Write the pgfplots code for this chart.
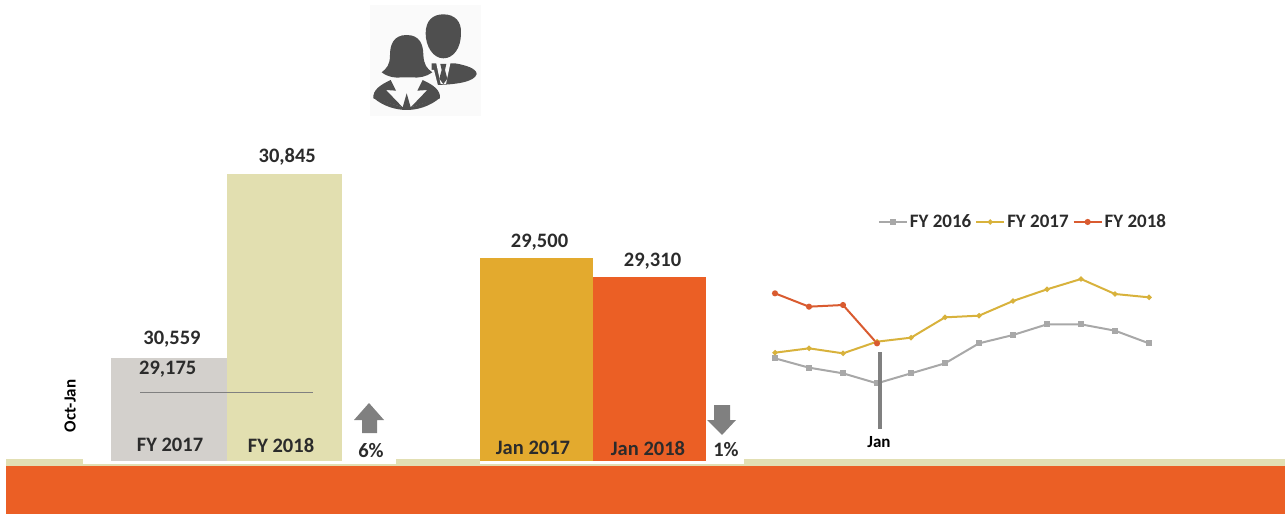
\documentclass[border=0pt]{standalone}
\usepackage{pgfplots}
\pgfplotsset{compat=1.18}
\usepackage{fontspec}
\setmainfont{Carlito}
\definecolor{bandorange}{HTML}{EB5F25}
\definecolor{strip}{HTML}{E2DFB3}
\definecolor{bargrey}{HTML}{D3D0CC}
\definecolor{barbeige}{HTML}{E2DFB0}
\definecolor{bargold}{HTML}{E3AA2E}
\definecolor{linegrey}{HTML}{A8A8A8}
\definecolor{linegold}{HTML}{D8B23C}
\definecolor{linered}{HTML}{D95B30}
\definecolor{ink}{HTML}{2B2B2B}
\definecolor{arrowgrey}{HTML}{808080}
\definecolor{icon}{HTML}{4F4F4F}
\newcommand{\lab}{\fontsize{20.5}{24}\selectfont\bfseries\color{ink}}
\pgfplotsset{
  barpanel/.style={
    hide axis, scale only axis, clip=false, ybar, bar shift=0pt,
    anchor=south west, xmin=-0.5, xmax=1.5,
    nodes near coords={\pgfmathprintnumber[fixed,precision=0,1000 sep={,},assume math mode=true]{\pgfplotspointmeta}},
    nodes near coords style={font=\lab},
  },
}
\begin{document}
\begin{tikzpicture}[x=1pt,y=-1pt]
\path[use as bounding box] (0,0) rectangle (1285,514);

% footer band
\fill[strip] (6,459) rectangle (1285,466);
\fill[white] (83,459) rectangle (396,463.5);
\fill[white] (480,459) rectangle (744,464);
\fill[bandorange] (6,466) rectangle (1285,514);

% people icon
\fill[black!2] (370,5) rectangle (481,116);
\begin{scope}[shift={(360,0)},x=0.3333pt,y=-0.3333pt]
  \fill[icon] (197,100) .. controls (197,60) and (220,43) .. (250,43) .. controls (285,43) and (305,65) .. (303,100)
    .. controls (303,145) and (280,175) .. (250,175) .. controls (220,175) and (197,140) .. (197,100) -- cycle;
  \fill[icon] (215,190) -- (285,190) .. controls (315,195) and (350,205) .. (350,222)
    .. controls (345,245) and (290,255) .. (215,255) -- cycle;
  \fill[black!2] (228,186) -- (272,186) -- (258,252) -- (242,252) -- cycle;
  \fill[icon] (241,192) -- (259,192) -- (255,210) -- (262,236) -- (250,252) -- (238,236) -- (245,210) -- cycle;
  \fill[black!2] (60,210) -- (222,210) -- (245,300) -- (30,300) -- cycle;
  \fill[icon] (140,105) .. controls (100,105) and (90,135) .. (90,165)
    .. controls (90,195) and (80,205) .. (65,217) .. controls (85,232) and (110,235) .. (125,232)
    -- (155,232) .. controls (175,235) and (200,230) .. (217,217)
    .. controls (200,205) and (192,195) .. (190,165) .. controls (190,135) and (180,105) .. (140,105) -- cycle;
  \fill[icon] (92,240) -- (108,272) -- (78,270) -- (128,322) -- (40,295)
    .. controls (38,270) and (60,255) .. (92,240) -- cycle;
  \fill[icon] (188,240) -- (172,272) -- (202,270) -- (152,322) -- (240,295)
    .. controls (242,270) and (220,255) .. (188,240) -- cycle;
  \fill[icon] (40,293) .. controls (70,320) and (110,330) .. (140,330) .. controls (170,330) and (210,320) .. (240,293)
    -- (152,322) -- (140,280) -- (128,322) -- cycle;
\end{scope}

% Oct-Jan bars
\begin{axis}[barpanel, at={(111pt,-461pt)}, width=231pt, height=287.5pt, bar width=115.5pt,
  ymin=28242, ymax=30845]
  \addplot[fill=bargrey, draw=none,
    nodes near coords style={anchor=north, yshift=0pt, xshift=-1pt}]
    coordinates {(0,29175)};
  \addplot[fill=barbeige, draw=none,
    nodes near coords style={anchor=south, yshift=5pt, xshift=3pt}]
    coordinates {(1,30845)};
\end{axis}
\draw[black!50, line width=0.8pt] (140,392.5) -- (313,392.5);
\node[font=\lab] at (172,339) {30,559};
\node[font=\lab] at (170,445) {FY 2017};
\node[font=\lab] at (281,445) {FY 2018};
\node[font=\lab] at (371,451) {6\%};
\node[font=\fontsize{17}{20}\selectfont\bfseries, text=black, rotate=90] at (70,406) {Oct-Jan};
\fill[arrowgrey] (369,403) -- (384,420) -- (377,420) -- (377,433) -- (362,433) -- (362,420) -- (354,420) -- cycle;

% January bars
\begin{axis}[barpanel, at={(480pt,-461pt)}, width=226pt, height=203pt, bar width=113pt,
  ymin=27438, ymax=29500]
  \addplot[fill=bargold, draw=none,
    nodes near coords style={anchor=south, yshift=4pt, xshift=3pt}]
    coordinates {(0,29500)};
  \addplot[fill=bandorange, draw=none,
    nodes near coords style={anchor=south, yshift=4pt, xshift=3pt}]
    coordinates {(1,29310)};
\end{axis}
\node[font=\lab] at (533,448) {Jan 2017};
\node[font=\lab] at (648,448) {Jan 2018};
\node[font=\lab] at (726,450) {1\%};
\fill[arrowgrey] (722,435) -- (707,420) -- (714,420) -- (714,405) -- (730,405) -- (730,420) -- (736,420) -- cycle;

% monthly lines
\begin{axis}[hide axis, scale only axis, clip=false, anchor=south west,
  at={(775pt,-400pt)}, width=374pt, height=150pt,
  xmin=0, xmax=11, ymin=22850, ymax=39950,
  legend style={at={(0.663,1.187)}, anchor=center, draw=none, fill=none,
    font=\fontsize{19}{21}\selectfont\bfseries\color{ink}, legend columns=3,
    /tikz/every even column/.append style={column sep=2pt},
    /tikz/every odd column/.append style={column sep=0pt},
    inner sep=0pt, cells={anchor=west}},
  legend image code/.code={\draw[mark repeat=2,mark phase=2,#1] plot coordinates {(0pt,0pt)(14pt,0pt)(28pt,0pt)};},
  every axis plot/.append style={line width=2pt, mark=*, mark size=2pt},
]
  \addplot[linegrey, mark=square*, mark options={fill=linegrey}] coordinates {
    (0,27600) (1,26536) (2,25890) (3,24750) (4,25890) (5,27030)
    (6,29310) (7,30260) (8,31476) (9,31476) (10,30754) (11,29310)};
  \addlegendentry{FY 2016}
  \addplot[linegold, mark options={fill=linegold}, mark size=1.5pt] coordinates {
    (0,28246) (1,28740) (2,28170) (3,29500) (4,29956) (5,32274)
    (6,32464) (7,34136) (8,35466) (9,36644) (10,34934) (11,34554)};
  \addlegendentry{FY 2017}
  \addplot[linered, mark options={fill=linered}] coordinates {
    (0,35010) (1,33490) (2,33680) (3,29310)};
  \addlegendentry{FY 2018}
\end{axis}
\draw[arrowgrey, line width=3.5pt] (880,352) -- (880,429);
\node[font=\fontsize{17}{20}\selectfont\bfseries, text=black] at (879,442) {Jan};
\end{tikzpicture}
\end{document}
